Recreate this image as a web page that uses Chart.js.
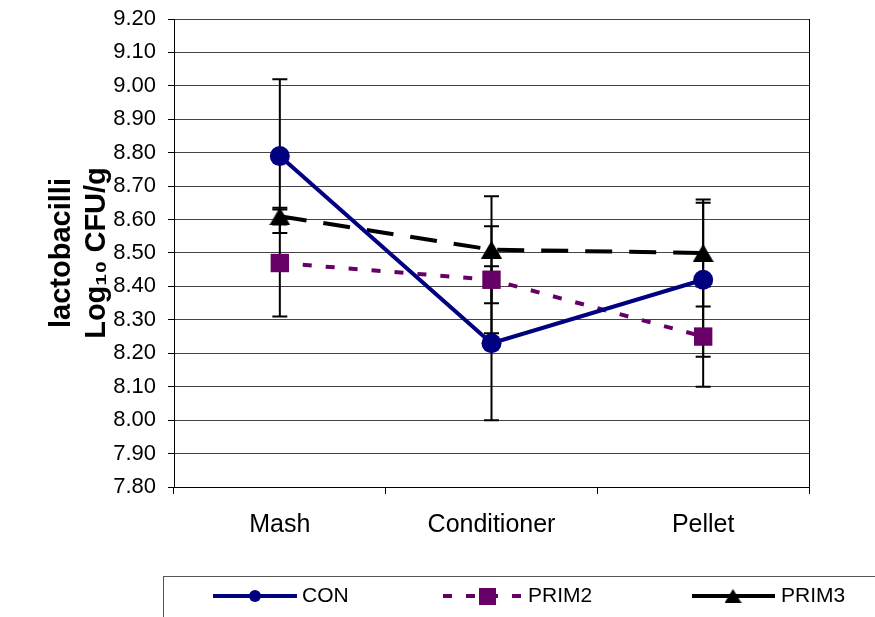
<!DOCTYPE html>
<html>
<head>
<meta charset="utf-8">
<script src="https://cdn.jsdelivr.net/npm/chart.js@4/dist/chart.umd.min.js"></script>
<style>
  html, body { margin: 0; padding: 0; background: #fff; }
  #chart { display: block; }
</style>
</head>
<body>
<canvas id="chart" width="875" height="617"></canvas>
<script>
const categories = ['Mash', 'Conditioner', 'Pellet'];
const conValues = [8.79, 8.23, 8.42];
const conErrors = [0.23, 0.23, 0.23];
const prim2Values = [8.47, 8.42, 8.25];
const prim2Errors = [0.16, 0.16, 0.15];
const prim3Values = [8.61, 8.51, 8.50];
const prim3Errors = [0.025, 0.16, 0.16];
const yTickMin = 7.8;
const yTickMax = 9.2;
const yTickStep = 0.1;

const FONT = "'Liberation Sans', Arial, sans-serif";

// triangle centred on its bounding box, like the spreadsheet marker
function makeTriangle(w, h) {
  const c = document.createElement('canvas');
  c.width = w;
  c.height = h;
  const g = c.getContext('2d');
  g.fillStyle = '#000';
  g.beginPath();
  g.moveTo(w / 2, 0);
  g.lineTo(w, h);
  g.lineTo(0, h);
  g.closePath();
  g.fill();
  return c;
}
const bigTriangle = makeTriangle(21, 18);
const smallTriangle = makeTriangle(17, 14);

const errorBars = {
  id: 'errorBars',
  beforeDatasetsDraw(chart) {
    const { ctx, scales: { x, y } } = chart;
    ctx.save();
    ctx.strokeStyle = '#000';
    ctx.lineWidth = 2;
    chart.data.datasets.forEach((ds) => {
      ds.values.forEach((v, i) => {
        const e = ds.errors[i];
        const px = x.getPixelForValue(i);
        const top = y.getPixelForValue(v + e);
        const bot = y.getPixelForValue(v - e);
        ctx.beginPath();
        ctx.moveTo(px, top);
        ctx.lineTo(px, bot);
        ctx.moveTo(px - 7.5, top);
        ctx.lineTo(px + 7.5, top);
        ctx.moveTo(px - 7.5, bot);
        ctx.lineTo(px + 7.5, bot);
        ctx.stroke();
      });
    });
    ctx.restore();
  },
};

const frame = {
  id: 'frame',
  afterDraw(chart) {
    const { ctx, chartArea: { right, top, bottom } } = chart;
    ctx.save();
    ctx.strokeStyle = '#000';
    ctx.lineWidth = 1;
    ctx.beginPath();
    ctx.moveTo(Math.round(right) + 0.5, top);
    ctx.lineTo(Math.round(right) + 0.5, bottom);
    ctx.stroke();

    // legend box, running off the right and bottom edges
    ctx.strokeStyle = '#555';
    ctx.strokeRect(163.5, 576.5, 760, 80);

    const ly = 596;
    ctx.font = '21px ' + FONT;
    ctx.textBaseline = 'middle';
    ctx.fillStyle = '#000';

    // CON
    ctx.strokeStyle = '#000080';
    ctx.lineWidth = 4;
    ctx.beginPath();
    ctx.moveTo(213, ly);
    ctx.lineTo(297, ly);
    ctx.stroke();
    ctx.fillStyle = '#000080';
    ctx.beginPath();
    ctx.arc(255, ly, 6, 0, Math.PI * 2);
    ctx.fill();
    ctx.fillStyle = '#000';
    ctx.fillText('CON', 302, ly);

    // PRIM2
    ctx.strokeStyle = '#660066';
    ctx.setLineDash([9, 14]);
    ctx.beginPath();
    ctx.moveTo(443, ly);
    ctx.lineTo(522, ly);
    ctx.stroke();
    ctx.setLineDash([]);
    ctx.fillStyle = '#660066';
    ctx.fillRect(479, ly - 8, 17, 17);
    ctx.fillStyle = '#000';
    ctx.fillText('PRIM2', 528, ly);

    // PRIM3
    ctx.strokeStyle = '#000';
    ctx.beginPath();
    ctx.moveTo(692, ly);
    ctx.lineTo(775, ly);
    ctx.stroke();
    ctx.drawImage(smallTriangle, 733 - 8.5, ly - 7);
    ctx.fillText('PRIM3', 781, ly);
    ctx.restore();
  },
};

function series(label, values, errors, color, dash, style, radius) {
  return {
    label,
    data: values,
    values,
    errors,
    borderColor: color,
    backgroundColor: color,
    borderWidth: 4,
    borderDash: dash,
    pointStyle: style,
    pointRadius: radius,
    pointBorderWidth: 0,
    pointBackgroundColor: color,
    tension: 0,
  };
}

new Chart(document.getElementById('chart'), {
  type: 'line',
  data: {
    labels: categories,
    datasets: [
      series('CON', conValues, conErrors, '#000080', [], 'circle', 10),
      series('PRIM2', prim2Values, prim2Errors, '#660066', [9, 14], 'rect', 13),
      series('PRIM3', prim3Values, prim3Errors, '#000000', [27, 17], bigTriangle, 10),
    ],
  },
  options: {
    animation: false,
    responsive: false,
    devicePixelRatio: 1,
    layout: { padding: { top: 19, right: 66, bottom: 70, left: 0 } },
    plugins: {
      legend: { display: false },
      tooltip: { enabled: false },
    },
    scales: {
      x: {
        type: 'category',
        offset: true,
        afterFit(scale) { scale.height = 60; },
        grid: {
          offset: true,
          drawOnChartArea: false,
          tickLength: 7,
          color: '#000',
        },
        border: { color: '#000', width: 1 },
        ticks: {
          color: '#000',
          padding: 16,
          font: { family: FONT, size: 25 },
        },
      },
      y: {
        min: yTickMin,
        max: yTickMax,
        afterFit(scale) {
          scale.width = 174;
          scale.paddingTop = 0;
          scale.paddingBottom = 0;
        },
        grid: { color: '#444', lineWidth: 1, tickLength: 6, tickColor: '#000' },
        border: { color: '#000', width: 1 },
        ticks: {
          stepSize: yTickStep,
          color: '#000',
          padding: 12,
          font: { family: FONT, size: 22 },
          callback: (v) => Number(v).toFixed(2),
        },
        title: {
          display: true,
          text: ['lactobacilli', 'Log\u2081\u2080 CFU/g'],
          color: '#000',
          padding: { top: 45, bottom: 0 },
          font: { family: FONT, size: 29, weight: 'bold', lineHeight: 1.2 },
        },
      },
    },
  },
  plugins: [errorBars, frame],
});
</script>
</body>
</html>
